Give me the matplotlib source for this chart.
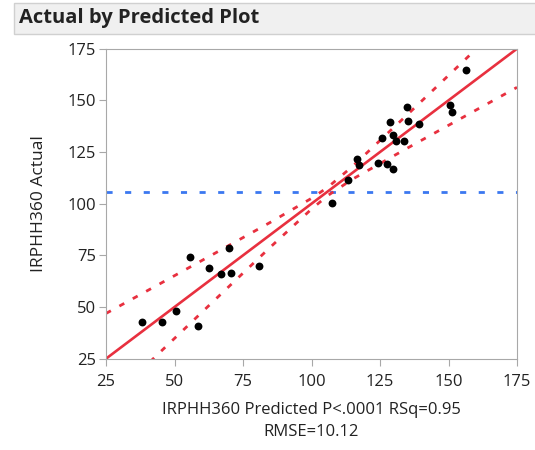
import matplotlib
matplotlib.use("Agg")
import matplotlib.pyplot as plt
from matplotlib.patches import Rectangle

# values
predicted = [38.2, 45.5, 50.7, 58.4, 55.7, 69.9, 62.5, 67.1, 70.5, 80.7,
             107.6, 113.4, 116.7, 117.4, 124.1, 127.7, 129.9, 125.7, 128.5,
             129.9, 131.0, 133.8, 134.7, 135.3, 139.4, 150.7, 151.3, 156.3]
actual = [42.8, 42.8, 48.0, 40.6, 74.2, 78.5, 68.9, 65.8, 66.6, 69.7,
          100.2, 111.7, 121.5, 118.9, 119.7, 119.4, 116.8, 131.7, 139.3,
          133.4, 130.3, 130.3, 146.7, 139.8, 138.5, 147.6, 144.3, 164.7]
mean_actual = 105.8
fit_x = [25, 175]

# confidence curves
band_x = [25, 45, 65, 85, 100, 106, 115, 135, 155, 175]
band_upper = [46.9, 61.5, 76.2, 91.0, 102.6, 108.0, 118.1, 143.1, 168.4, 193.7]
band_lower = [3.1, 28.5, 53.8, 79.0, 97.4, 104.0, 111.9, 126.9, 141.6, 156.3]

ticks = [25, 50, 75, 100, 125, 150, 175]

plt.rcParams["font.family"] = ["Open Sans", "DejaVu Sans"]

fig = plt.figure(figsize=(5.35, 4.5), dpi=100)

# title bar
fig.patches.append(Rectangle((14 / 535, 1 - 34 / 450), 1, 31 / 450,
                             transform=fig.transFigure, facecolor="#f0f0f0",
                             edgecolor="#d0d0d0", lw=1))
fig.text(19 / 535, 1 - 18 / 450, "Actual by Predicted Plot", fontsize=14.5,
         fontweight="bold", va="center", ha="left", color="#222222")

ax = fig.add_axes([106 / 535, 1 - 358.7 / 450, 411 / 535, 310 / 450])

red = "#e8303f"
ax.axhline(mean_actual, color="#3b78f0", lw=2, ls=(0, (2.2, 4.5)), zorder=1)
ax.plot(band_x, band_upper, color=red, lw=2, ls=(0, (2, 3.5)), zorder=2)
ax.plot(band_x, band_lower, color=red, lw=2, ls=(0, (2, 3.5)), zorder=2)
ax.plot(fit_x, fit_x, color=red, lw=1.9, zorder=2)
ax.scatter(predicted, actual, s=32, color="black", zorder=3, linewidths=0)

ax.set_xlim(25, 175)
ax.set_ylim(25, 175)
ax.set_xticks(ticks)
ax.set_yticks(ticks)
for s in ax.spines.values():
    s.set_color("#a8a8a8")
ax.tick_params(colors="#a8a8a8", labelcolor="#222222", labelsize=12,
               length=5)
ax.tick_params(axis="x", pad=6)
ax.tick_params(axis="y", pad=2)

ax.set_xlabel("IRPHH360 Predicted P<.0001 RSq=0.95\nRMSE=10.12",
              fontsize=12, color="#222222", linespacing=1.45, labelpad=9)
ax.set_ylabel("IRPHH360 Actual", fontsize=12.5, color="#222222", labelpad=15)

fig.savefig("out.png", dpi=100)
